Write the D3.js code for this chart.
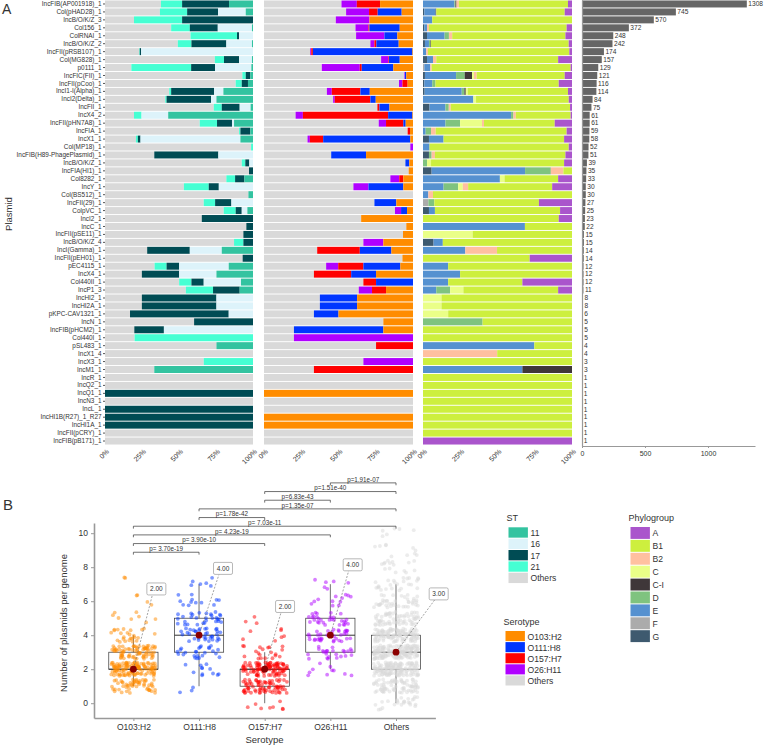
<!DOCTYPE html>
<html>
<head>
<meta charset="utf-8">
<script src="https://cdn.jsdelivr.net/npm/d3@7"></script>
<style>
  body { margin: 0; background: #fff; }
  svg text { font-family: "Liberation Sans", Arial, sans-serif; fill: #333; }
</style>
</head>
<body>
<svg id="fig" width="764" height="746"></svg>
<script>
// ---------- panel A data ----------
const plasmids = ["IncFIB(AP001918)_1","Col(pHAD28)_1","IncB/O/K/Z_3","Col156_1","ColRNAI_1","IncB/O/K/Z_2",
  "IncFII(pRSB107)_1","Col(MG828)_1","p0111_1","IncFIC(FII)_1","IncFII(pCoo)_1","IncI1-I(Alpha)_1",
  "IncI2(Delta)_1","IncFII_1","IncX4_2","IncFII(pHN7A8)_1","IncFIA_1","IncX1_1","Col(MP18)_1",
  "IncFIB(H89-PhagePlasmid)_1","IncB/O/K/Z_1","IncFIA(HI1)_1","Col8282_1","IncY_1","Col(BS512)_1",
  "IncFII(29)_1","ColpVC_1","IncI2_1","IncC_1","IncFII(pSE11)_1","IncB/O/K/Z_4","IncI(Gamma)_1",
  "IncFII(pEH01)_1","pEC4115_1","IncX4_1","Col440II_1","IncP1_3","IncHI2_1","IncHI2A_1",
  "pKPC-CAV1321_1","IncN_1","IncFIB(pHCM2)_1","Col440I_1","pSL483_1","IncX1_4","IncX3_1","IncM1_1",
  "IncR_1","IncQ2_1","IncQ1_1","IncN3_1","IncL_1","IncHI1B(R27)_1_R27","IncHI1A_1","IncFII(pCRY)_1",
  "IncFIB(pB171)_1"];
const plasmidCounts = [1308,745,570,372,248,242,174,157,129,121,116,114,84,75,61,61,59,58,52,51,39,35,33,
  30,30,27,25,23,22,15,15,14,14,12,12,12,11,8,8,6,5,5,5,4,4,3,3,1,1,1,1,1,1,1,1,1];

// ST shares, stacking order left -> right
const stKeys = ["Others","21","17","16","11"];
const stShares = [
  [.378,.143,.317,0,.162],[.371,.184,.209,.187,.049],[.196,.325,.479,0,0],[.447,.126,.189,.231,.007],
  [.578,.314,.014,.094,0],[.492,.092,.236,.173,.007],[.231,.004,.009,.756,0],[.742,.062,.102,.087,.007],
  [.178,.404,.162,.245,.011],[.928,.023,.031,0,.018],[.883,.041,.042,0,.034],[.434,.013,.290,.063,.2],
  [.407,.009,.301,.036,.247],[.735,.054,.121,.074,.016],[.196,.051,0,.18,.573],[.640,.117,.101,.014,.128],
  [.906,.009,.067,0,.018],[.209,.013,.018,.675,.085],[.987,.013,0,0,0],[.333,0,.433,.234,0],
  [.924,.024,.027,.025,0],[.973,0,.027,0,0],[.82,.059,.063,0,.058],[.533,.168,.068,.231,0],
  [.969,0,0,0,.031],[.667,.077,.11,.146,0],[.802,.081,.041,.038,.038],[.654,0,.346,0,0],
  [.955,0,.045,0,0],[.935,0,.065,0,0],[.872,.063,.065,0,0],[.285,0,.288,.216,.211],
  [.93,0,.07,0,0],[.335,.081,.085,.335,.164],[.249,0,.252,.252,.247],[.501,.083,.083,.252,.081],
  [.546,.184,.18,0,.09],[.249,0,.504,.247,0],[.249,0,.504,.247,0],[.169,0,.667,.164,0],
  [.602,0,.398,0,0],[.198,0,.2,.602,0],[.2,.8,0,0,0],[.753,0,0,0,.247],[1,0,0,0,0],[.667,.333,0,0,0],
  [.333,0,0,0,.667],[1,0,0,0,0],[1,0,0,0,0],[0,0,1,0,0],[1,0,0,0,0],[0,0,1,0,0],[0,0,1,0,0],
  [0,0,1,0,0],[1,0,0,0,0],[1,0,0,0,0]];

const seroKeys = ["Others","O26:H11","O157:H7","O111:H8","O103:H2"];
const seroShares = [
  [.520,.103,.156,0,.221],[.551,.154,.058,.161,.076],[.482,.226,0,0,.292],[.614,.087,.007,.203,.089],
  [.618,.19,0,.087,.105],[.714,.027,.013,.15,.096],[.310,.007,.011,.668,.004],[.786,.049,.004,.072,.089],
  [.388,.255,.013,.212,.132],[.942,.004,0,.009,.045],[.906,.023,.035,0,.036],[.422,.033,.192,.063,.290],
  [.464,.011,.239,.036,.25],[.761,0,.014,.067,.158],[.212,.049,.572,.163,.004],[.770,.049,.116,.016,.049],
  [.964,0,.016,0,.02],[.292,.016,.089,.585,.018],[.982,.018,0,0,0],[.451,0,0,.234,.315],
  [.949,0,0,.026,.025],[.971,0,0,0,.029],[.848,.06,.027,0,.065],[.600,.101,0,.234,.065],
  [1,0,0,0,0],[.741,0,0,.147,.112],[.879,.041,0,.04,.04],[.652,0,0,0,.348],[.955,0,0,0,.045],
  [.933,0,0,0,.067],[.667,.134,0,0,.199],[.357,0,.286,.212,.145],[.929,0,0,0,.071],
  [.417,.081,.169,.248,.085],[.335,0,.25,.167,.248],[.667,0,.085,.248,0],[.636,.089,.094,0,.181],
  [.375,0,0,.25,.375],[.375,0,0,.25,.375],[.335,0,0,.165,.5],[.801,0,0,0,.199],[.201,0,0,.6,.199],
  [.201,.799,0,0,0],[.752,0,.248,0,0],[1,0,0,0,0],[.667,.333,0,0,0],[.335,0,.665,0,0],[1,0,0,0,0],
  [1,0,0,0,0],[0,0,0,0,1],[1,0,0,0,0],[1,0,0,0,0],[0,0,0,0,1],[0,0,0,0,1],[1,0,0,0,0],[1,0,0,0,0]];

const phyloKeys = ["G","F","E","D","C-I","C","B2","B1","A"];
const phyloShares = [
  [0,0,.211,.007,.007,0,.016,.733,.027],[.009,0,.076,0,.004,0,0,.862,.049],[0,0,.062,0,0,0,0,.938,0],
  [.009,0,.018,0,0,0,.013,.924,.036],[.027,0,.118,.029,0,0,.022,.760,.044],[.013,0,.027,.009,.004,0,0,.925,.022],
  [0,0,.022,0,0,0,.011,.949,.018],[.027,0,.04,0,0,0,.022,.818,.093],[0,.009,.04,0,0,0,.009,.933,.009],
  [.013,0,.209,.058,.049,.013,.018,.591,.049],[.009,0,.053,.022,0,0,0,.827,.089],[.011,0,.249,.018,.009,.013,0,.673,.027],
  [0,0,.338,0,0,.018,0,.622,.022],[.044,0,.107,.022,0,0,.013,.801,.013],[0,0,.591,.016,0,0,.016,.368,.009],
  [0,0,.151,.098,0,.147,.013,.475,.116],[0,0,.018,.036,0,0,.031,.879,.036],[.04,0,.098,0,0,0,0,.809,.053],
  [0,0,.044,0,0,0,0,.934,.022],[.04,0,0,.018,0,0,.022,.876,.044],[0,0,0,.027,0,.027,0,.893,.053],
  [.058,0,.627,.173,0,0,.084,.058,0],[0,0,.516,0,0,.031,0,.36,.093],[0,0,.138,.098,0,.031,.036,.564,.133],
  [0,0,.036,0,0,0,.031,.933,0],[0,.036,0,.04,0,0,0,.702,.222],[.04,0,.04,0,0,0,0,.84,.08],
  [0,0,0,0,0,0,0,.911,.089],[0,0,.684,0,0,0,0,.316,0],[0,0,0,0,0,.333,0,.667,0],
  [.071,0,.062,0,0,0,0,.867,0],[0,0,.284,0,0,0,.213,.503,0],[0,0,0,0,0,0,0,.716,.284],
  [0,0,.169,0,0,0,0,.831,0],[0,0,.249,0,0,0,0,.751,0],[0,0,.169,0,0,0,0,.498,.333],
  [0,0,.089,.093,0,.089,0,.636,.093],[0,0,0,0,0,.124,0,.876,0],[0,0,0,0,0,.124,0,.876,0],
  [0,0,0,0,0,.169,0,.831,0],[0,0,0,.4,0,0,0,.6,0],[0,0,0,0,0,0,0,1,0],[0,0,0,0,0,0,0,1,0],
  [0,0,.747,0,0,0,0,.253,0],[0,0,0,0,0,0,.498,.502,0],[0,0,0,0,0,0,0,1,0],[0,0,.667,0,.333,0,0,0,0],
  [0,0,0,0,0,0,0,1,0],[0,0,0,0,0,0,0,1,0],[0,0,0,0,0,0,0,1,0],[0,0,0,0,0,0,0,1,0],
  [0,0,0,0,0,0,0,1,0],[0,0,0,0,0,0,0,1,0],[0,0,0,0,0,0,0,1,0],[0,0,0,0,0,0,0,1,0],
  [0,0,0,0,0,0,0,0,1]];

const stColors = {"11":"#33C3A0","16":"#DDF3FA","17":"#004C54","21":"#46FFD3","Others":"#D9D9D9"};
const seroColors = {"O103:H2":"#FF8C00","O111:H8":"#0036FF","O157:H7":"#FF0000","O26:H11":"#B000FF","Others":"#D9D9D9"};
const phyloColors = {"A":"#AA55CC","B1":"#CDEF3E","B2":"#FFC0A0","C":"#EAFF88","C-I":"#3F3739",
  "D":"#7FC37F","E":"#5591D0","F":"#ABABAB","G":"#3E5A6F"};

// ---------- panel B data ----------
const serotypes = ["O103:H2","O111:H8","O157:H7","O26:H11","Others"];
// number of genomes carrying 0,1,2,...,10 plasmids
const countsO103 = [0, 55, 120, 75, 25, 8, 4, 2, 0, 0, 0];
const countsO111 = [0, 3, 12, 25, 35, 30, 12, 6, 0, 0, 0];
const countsO157 = [8, 75, 100, 20, 7, 3, 0, 0, 0, 0, 0];
const countsO26  = [0, 0, 10, 25, 35, 30, 12, 6, 0, 0, 0];
const countsOthers = [25, 75, 140, 150, 115, 65, 40, 25, 15, 10, 6];
// median label placement (repelled labels): x shift in category units, y in plasmid units
const labelShiftX = [0.35, 0.365, 0.31, 0.34, 0.65];
const labelY = [6.72, 7.93, 5.69, 8.14, 6.43];
const comparisons = [
  ["O103:H2","O111:H8","p= 3.70e-19"],
  ["O103:H2","O157:H7","p= 3.90e-10"],
  ["O103:H2","O26:H11","p= 4.23e-19"],
  ["O103:H2","Others","p= 7.03e-11"],
  ["O111:H8","O157:H7","p=1.78e-42"],
  ["O111:H8","Others","p=1.35e-07"],
  ["O157:H7","O26:H11","p=6.83e-43"],
  ["O157:H7","Others","p=1.51e-40"],
  ["O26:H11","Others","p=1.91e-07"]];
const bracketBase = 8.88, bracketStep = 0.51;

const svg = d3.select("#fig");

// ================= PANEL A =================
const rowY = d3.scaleBand().domain(plasmids).range([0, 445]).paddingInner(0.12).paddingOuter(0.06);
const xST = d3.scaleLinear().domain([0, 1]).range([105, 253]);
const xSero = d3.scaleLinear().domain([0, 1]).range([264, 413]);
const xPhylo = d3.scaleLinear().domain([0, 1]).range([423, 572]);
const xCount = d3.scaleLinear().domain([0, 1373]).range([582, 755]);

function stackPanel(keys, shares, colors, x) {
  const rows = shares.map((s, i) => {
    const o = {plasmid: plasmids[i]};
    keys.forEach((k, j) => o[k] = s[j]);
    return o;
  });
  const series = d3.stack().keys(keys).offset(d3.stackOffsetExpand)(rows);
  const g = svg.append("g");
  g.selectAll("g").data(series).join("g")
    .attr("fill", d => colors[d.key])
    .selectAll("rect").data(d => d).join("rect")
    .attr("x", d => x(d[0]))
    .attr("width", d => Math.max(0, x(d[1]) - x(d[0])))
    .attr("y", d => rowY(d.data.plasmid))
    .attr("height", rowY.bandwidth());

  const ax = svg.append("g").attr("transform", "translate(0,446)")
    .call(d3.axisBottom(x).tickValues([0, .25, .5, .75, 1]).tickFormat(d3.format(".0%")).tickSize(0));
  ax.select(".domain").remove();
  ax.selectAll("text")
    .attr("font-size", 7).attr("fill", "#444").attr("text-anchor", "end")
    .attr("y", 0).attr("dy", 0)
    .attr("transform", "translate(4,6) rotate(-45)");
}

stackPanel(stKeys, stShares, stColors, xST);
stackPanel(seroKeys, seroShares, seroColors, xSero);
stackPanel(phyloKeys, phyloShares, phyloColors, xPhylo);

// plasmid labels
const yAx = svg.append("g").attr("transform", "translate(105,0)")
  .call(d3.axisLeft(rowY).tickSize(2).tickPadding(1.5));
yAx.select(".domain").remove();
yAx.selectAll("line").attr("stroke", "#555");
yAx.selectAll("text").attr("font-size", 6.4).attr("fill", "#333");

// count bars
svg.append("g").selectAll("rect").data(plasmids).join("rect")
  .attr("x", xCount(0))
  .attr("y", d => rowY(d))
  .attr("width", (d, i) => xCount(plasmidCounts[i]) - xCount(0))
  .attr("height", rowY.bandwidth())
  .attr("fill", "#666");
svg.append("g").selectAll("text").data(plasmids).join("text")
  .attr("x", (d, i) => xCount(plasmidCounts[i]) + 1.5)
  .attr("y", d => rowY(d) + rowY.bandwidth() / 2)
  .attr("dy", "0.35em")
  .attr("font-size", 6.6)
  .text((d, i) => plasmidCounts[i]);

const cAx = svg.append("g").attr("transform", "translate(0,446)")
  .call(d3.axisBottom(xCount).tickValues([0, 500, 1000]).tickFormat(d3.format("d")).tickSize(2).tickSizeOuter(0));
cAx.select(".domain").attr("stroke", "#999").attr("stroke-width", 1.2);
cAx.selectAll("line").attr("stroke", "#999");
cAx.selectAll("text").attr("font-size", 7).attr("fill", "#444");
const cyAx = svg.append("g").attr("transform", `translate(${xCount(0)},0)`)
  .call(d3.axisLeft(d3.scaleLinear().range([0, 446])).ticks(0).tickSizeOuter(0));
cyAx.select(".domain").attr("stroke", "#999").attr("stroke-width", 1.2);

svg.append("text").attr("x", 2).attr("y", 14).attr("font-size", 14).attr("fill", "#000").text("A");
svg.append("text").attr("transform", "translate(12,214) rotate(-90)")
  .attr("text-anchor", "middle").attr("font-size", 9.5).text("Plasmid");

// ================= PANEL B =================
const xB = d3.scalePoint().domain(serotypes).range([94, 435.4]).padding(0.6);
const yB = d3.scaleLinear().domain([-0.87, 10.6]).range([718, 523]);
const stepB = xB.step();
const boxW = 0.75 * stepB;

const countTables = [countsO103, countsO111, countsO157, countsO26, countsOthers];
const groups = serotypes.map((s, si) => {
  const vals = [];
  countTables[si].forEach((n, v) => { for (let k = 0; k < n; k++) vals.push(v); });
  const q1 = d3.quantile(vals, 0.25), med = d3.quantile(vals, 0.5), q3 = d3.quantile(vals, 0.75);
  const iqr = q3 - q1;
  const lo = d3.min(vals.filter(v => v >= q1 - 1.5 * iqr));
  const hi = d3.max(vals.filter(v => v <= q3 + 1.5 * iqr));
  return {s, si, vals, q1, med, q3, lo, hi};
});

// boxes
const boxG = svg.append("g").attr("stroke", "#333").attr("fill", "none").attr("stroke-width", 0.7);
groups.forEach(g => {
  const cx = xB(g.s);
  boxG.append("line").attr("x1", cx).attr("x2", cx).attr("y1", yB(g.hi)).attr("y2", yB(g.q3));
  boxG.append("line").attr("x1", cx).attr("x2", cx).attr("y1", yB(g.q1)).attr("y2", yB(g.lo));
  boxG.append("rect").attr("x", cx - boxW / 2).attr("width", boxW)
    .attr("y", yB(g.q3)).attr("height", yB(g.q1) - yB(g.q3));
  boxG.append("line").attr("x1", cx - boxW / 2).attr("x2", cx + boxW / 2)
    .attr("y1", yB(g.med)).attr("y2", yB(g.med)).attr("stroke-width", 1);
});

// jittered points: fixed hash offsets so the picture is reproducible
function hash(n, k) {
  const t = Math.sin(n * 12.9898 + k * 78.233) * 43758.5453;
  return t - Math.floor(t);
}
const pts = [];
groups.forEach(g => g.vals.forEach((v, n) => {
  const jx = hash(n + 1, g.si + 1) - 0.5;
  const jy = hash(n + 7, g.si + 11) - 0.5;
  pts.push({s: g.s, x: xB(g.s) + jx * 0.68 * stepB, y: yB(v + jy * 0.8)});
}));
svg.append("g").selectAll("circle").data(pts).join("circle")
  .attr("cx", d => d.x).attr("cy", d => d.y).attr("r", 1.9)
  .attr("fill", d => seroColors[d.s]).attr("fill-opacity", 0.5);

// median labels
const labG = svg.append("g");
groups.forEach(g => {
  const cx = xB(g.s), cy = yB(g.med);
  const lx = cx + labelShiftX[g.si] * stepB, ly = yB(labelY[g.si]);
  labG.append("line").attr("x1", cx).attr("y1", cy).attr("x2", lx - 4).attr("y2", ly + 6)
    .attr("stroke", "#666").attr("stroke-width", 0.6).attr("stroke-dasharray", "2,1.5");
  labG.append("circle").attr("cx", cx).attr("cy", cy).attr("r", 3.4).attr("fill", "#8B0000");
  labG.append("rect").attr("x", lx - 9.5).attr("y", ly - 6).attr("width", 19).attr("height", 12)
    .attr("rx", 1.5).attr("fill", "#fff").attr("stroke", "#888").attr("stroke-width", 0.6);
  labG.append("text").attr("x", lx).attr("y", ly).attr("dy", "0.35em").attr("text-anchor", "middle")
    .attr("font-size", 6.5).text(d3.format(".2f")(g.med));
});

// significance brackets
const brG = svg.append("g");
comparisons.forEach((c, i) => {
  const h = bracketBase + i * bracketStep;
  const x1 = xB(c[0]), x2 = xB(c[1]), y = yB(h), yt = yB(h - 0.14);
  brG.append("path").attr("d", `M${x1},${yt}V${y}H${x2}V${yt}`)
    .attr("fill", "none").attr("stroke", "#333").attr("stroke-width", 0.7);
  brG.append("text").attr("x", (x1 + x2) / 2).attr("y", y - 1.3).attr("text-anchor", "middle")
    .attr("font-size", 6.3).text(c[2]);
});

// axes B
const byAx = svg.append("g").attr("transform", "translate(94,0)")
  .call(d3.axisLeft(yB).tickValues([0, 2, 4, 6, 8, 10]).tickSize(3).tickSizeOuter(0).tickPadding(3));
byAx.select(".domain").attr("stroke", "#999").attr("stroke-width", 1.6);
byAx.selectAll("line").attr("stroke", "#999");
byAx.selectAll("text").attr("font-size", 8.5).attr("fill", "#333");
const bxAx = svg.append("g").attr("transform", "translate(0,718)")
  .call(d3.axisBottom(xB).tickSize(3).tickSizeOuter(0).tickPadding(3));
bxAx.select(".domain").attr("stroke", "#999").attr("stroke-width", 1.6);
bxAx.selectAll("line").attr("stroke", "#999");
bxAx.selectAll("text").attr("font-size", 8.5).attr("fill", "#333");

svg.append("text").attr("x", 264.5).attr("y", 743).attr("text-anchor", "middle")
  .attr("font-size", 9.5).text("Serotype");
svg.append("text").attr("transform", "translate(67,623) rotate(-90)").attr("text-anchor", "middle")
  .attr("font-size", 9.5).text("Number of plasmids per genome");
svg.append("text").attr("x", 3).attr("y", 510).attr("font-size", 15).attr("fill", "#000").text("B");

// legends
function legend(x, y, title, keys, colors, step) {
  const g = svg.append("g").attr("transform", `translate(${x},${y})`);
  g.append("text").attr("x", 0).attr("y", -6).attr("font-size", 9).text(title);
  keys.forEach((k, i) => {
    g.append("rect").attr("x", 2).attr("y", i * step).attr("width", 19.4).attr("height", step - 1)
      .attr("fill", colors[k]);
    g.append("text").attr("x", 24).attr("y", i * step + step / 2).attr("dy", "0.35em")
      .attr("font-size", 8.6).text(k);
  });
}
legend(506.5, 527.3, "ST", ["11","16","17","21","Others"], stColors, 11.35);
legend(503.5, 631, "Serotype", ["O103:H2","O111:H8","O157:H7","O26:H11","Others"], seroColors, 11.1);
legend(628.5, 527, "Phylogroup", ["A","B1","B2","C","C-I","D","E","F","G"], phyloColors, 12.9);
</script>
</body>
</html>
